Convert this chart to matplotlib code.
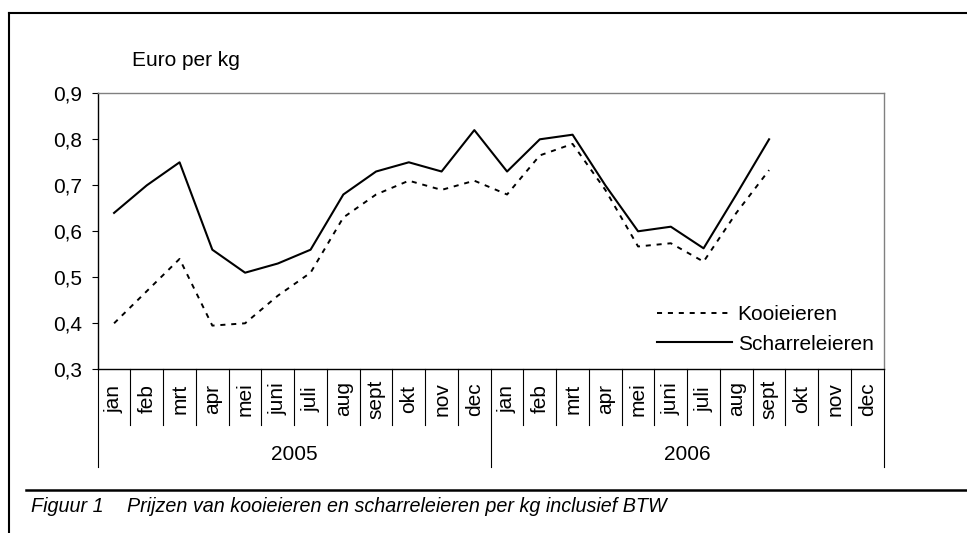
import matplotlib
matplotlib.use('Agg')
import matplotlib.pyplot as plt
from matplotlib.lines import Line2D
import matplotlib.transforms as mtransforms

plt.rcParams['font.family'] = ['Liberation Sans', 'DejaVu Sans']

# ---------------------------
# Data
# ---------------------------
months = ['jan', 'feb', 'mrt', 'apr', 'mei', 'juni', 'juli', 'aug', 'sept', 'okt', 'nov', 'dec']
years = ['2005', '2006']

kooieieren = [0.40, 0.47, 0.54, 0.395, 0.40, 0.46, 0.51, 0.63, 0.68, 0.71, 0.69, 0.71,
              0.68, 0.765, 0.79, 0.69, 0.567, 0.574, 0.534, 0.64, 0.733]
scharreleieren = [0.64, 0.70, 0.75, 0.56, 0.51, 0.53, 0.56, 0.68, 0.73, 0.75, 0.73, 0.82,
                  0.73, 0.80, 0.81, 0.70, 0.60, 0.61, 0.563, 0.68, 0.80]

y_ticks = [0.3, 0.4, 0.5, 0.6, 0.7, 0.8, 0.9]
y_label = 'Euro per kg'
caption_nr = 'Figuur 1'
caption = 'Prijzen van kooieieren en scharreleieren per kg inclusief BTW'

W, H = 967, 533
fig = plt.figure(figsize=(W / 100, H / 100), dpi=100)

# plot area in pixel terms
left, right, top, bottom = 97.7, 883.7, 93.3, 369.3
ax = fig.add_axes([left / W, 1 - bottom / H, (right - left) / W, (bottom - top) / H])

n_months = len(months) * len(years)
x_k = [i + 0.5 for i in range(len(kooieieren))]
x_s = [i + 0.5 for i in range(len(scharreleieren))]

ax.plot(x_k, kooieieren, color='black', lw=1.4, linestyle=(0, (2.6, 3.0)), label='Kooieieren')
ax.plot(x_s, scharreleieren, color='black', lw=1.5, label='Scharreleieren')

ax.set_xlim(0, n_months)
ax.set_ylim(0.3, 0.9)
ax.set_yticks(y_ticks)
ax.set_yticklabels([f'{v:.1f}'.replace('.', ',') for v in y_ticks], fontsize=15)
ax.tick_params(axis='y', direction='out', length=4.3, width=0.8, pad=7)
ax.set_xticks([])

for side in ['top', 'right']:
    ax.spines[side].set_color('#808080')
    ax.spines[side].set_linewidth(1.0)
for side in ['left', 'bottom']:
    ax.spines[side].set_color('black')
    ax.spines[side].set_linewidth(1.0)

# category axis: month labels, separators and year labels below the plot
trans = mtransforms.blended_transform_factory(ax.transData, ax.transAxes)
ph = bottom - top
sep_month = -(425 - bottom) / ph
sep_year = -(467 - bottom) / ph
for i in range(n_months + 1):
    low = sep_year if i % len(months) == 0 else sep_month
    ax.add_line(Line2D([i, i], [0, low], transform=trans, color='black', lw=0.8, clip_on=False))
for i in range(n_months):
    ax.text(i + 0.5, -(399 - bottom) / ph, months[i % len(months)], transform=trans,
            rotation=90, ha='center', va='center', fontsize=15)
for j, yr in enumerate(years):
    ax.text(j * len(months) + len(months) / 2, -(454 - bottom) / ph, yr, transform=trans,
            ha='center', va='center', fontsize=15)

leg = ax.legend(loc='lower right', bbox_to_anchor=(0.987, 0.057), frameon=False,
                fontsize=15, handlelength=3.6, handletextpad=0.25, labelspacing=0.5,
                borderpad=0, borderaxespad=0)

fig.text(132 / W, 1 - 65.7 / H, y_label, fontsize=15, va='baseline', ha='left')

# outer frame and caption rule
fig.add_artist(Line2D([9.3 / W, 9.3 / W], [0, 1 - 12.7 / H], color='black', lw=1.5))
fig.add_artist(Line2D([9.3 / W, 1], [1 - 12.7 / H, 1 - 12.7 / H], color='black', lw=1.5))
fig.add_artist(Line2D([26 / W, 1], [1 - 490 / H, 1 - 490 / H], color='black', lw=1.8))

fig.text(31 / W, 1 - 506 / H, caption_nr, fontsize=14.2, style='italic', va='center', ha='left')
fig.text(127 / W, 1 - 506 / H, caption, fontsize=14.2, style='italic', va='center', ha='left')

fig.savefig('out.png', dpi=100)
